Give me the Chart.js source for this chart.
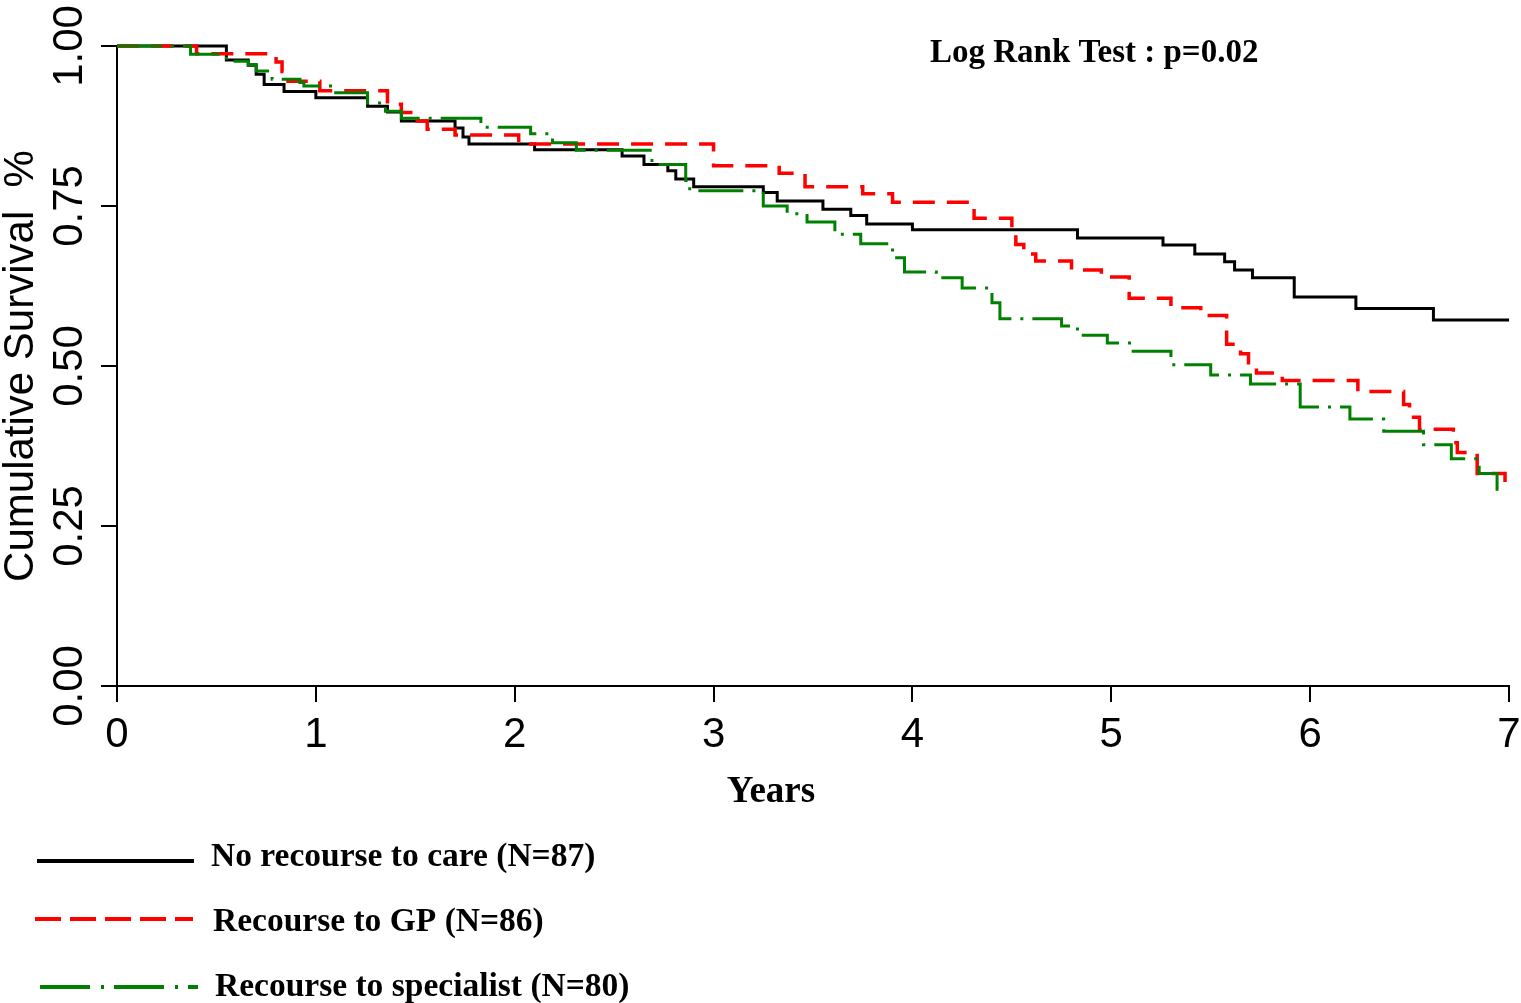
<!DOCTYPE html>
<html>
<head>
<meta charset="utf-8">
<script src="https://cdn.jsdelivr.net/npm/chart.js@4.4.1/dist/chart.umd.min.js"></script>
<style>
  html, body { margin: 0; padding: 0; background: #fff; }
  canvas { display: block; }
</style>
</head>
<body>
<canvas id="km" width="1521" height="1003"></canvas>
<script>
// axis ticks
const xTicks = [0, 1, 2, 3, 4, 5, 6, 7];
const yTicks = [0, 0.25, 0.5, 0.75, 1];

const seriesNames = ['No recourse to care (N=87)', 'Recourse to GP (N=86)', 'Recourse to specialist (N=80)'];

// Kaplan-Meier steps: time of drop (years) and survival after it
const noCareTimes = [0, 0.55, 0.66, 0.70, 0.74, 0.84, 1.00, 1.26, 1.36, 1.43, 1.70, 1.74, 1.77, 2.10, 2.54, 2.65, 2.77, 2.81, 2.90, 3.25, 3.32, 3.55, 3.69, 3.77, 4.00, 4.83, 5.26, 5.42, 5.57, 5.62, 5.71, 5.92, 6.23, 6.62, 7.00];
const noCareSurv = [1.00, 0.978, 0.970, 0.956, 0.940, 0.929, 0.919, 0.906, 0.897, 0.883, 0.872, 0.858, 0.847, 0.838, 0.828, 0.815, 0.805, 0.792, 0.780, 0.771, 0.758, 0.745, 0.735, 0.722, 0.713, 0.700, 0.689, 0.675, 0.663, 0.650, 0.638, 0.608, 0.590, 0.572, 0.572];

const gpTimes = [0, 0.40, 0.80, 0.83, 0.86, 1.02, 1.36, 1.43, 1.51, 1.56, 1.70, 2.02, 3.00, 3.33, 3.46, 3.75, 3.90, 4.31, 4.50, 4.52, 4.56, 4.62, 4.80, 4.95, 5.09, 5.30, 5.45, 5.58, 5.65, 5.69, 5.73, 5.86, 6.24, 6.47, 6.50, 6.55, 6.72, 6.74, 6.84, 6.98];
const gpSurv = [1.00, 0.988, 0.975, 0.960, 0.945, 0.930, 0.909, 0.896, 0.883, 0.870, 0.861, 0.847, 0.813, 0.801, 0.780, 0.769, 0.756, 0.731, 0.710, 0.690, 0.675, 0.664, 0.650, 0.639, 0.606, 0.591, 0.579, 0.534, 0.519, 0.505, 0.489, 0.4775, 0.460, 0.440, 0.420, 0.401, 0.380, 0.365, 0.332, 0.315];

const specTimes = [0, 0.37, 0.55, 0.66, 0.70, 0.78, 0.92, 0.94, 1.10, 1.26, 1.35, 1.43, 1.83, 2.08, 2.19, 2.31, 2.69, 2.86, 2.88, 3.25, 3.37, 3.47, 3.61, 3.74, 3.90, 3.96, 4.12, 4.25, 4.40, 4.44, 4.75, 4.83, 4.98, 5.11, 5.30, 5.50, 5.70, 5.95, 6.20, 6.37, 6.57, 6.71, 6.85, 6.94];
const specSurv = [1.00, 0.987, 0.976, 0.971, 0.961, 0.948, 0.943, 0.9375, 0.927, 0.911, 0.898, 0.887, 0.873, 0.863, 0.849, 0.837, 0.815, 0.790, 0.774, 0.750, 0.738, 0.725, 0.706, 0.691, 0.669, 0.647, 0.638, 0.622, 0.599, 0.574, 0.5625, 0.548, 0.536, 0.523, 0.502, 0.486, 0.472, 0.436, 0.417, 0.398, 0.377, 0.355, 0.332, 0.305];

const testLabel = 'Log Rank Test : p=0.02';
const xTitle = 'Years';
const yTitle = 'Cumulative Survival  %';

function toPoints(times, surv) {
  return times.map((t, i) => ({ x: t, y: surv[i] }));
}

// legend rows drawn under the plot
const legendRows = [
  { y: 861, x0: 37, x1: 194, textX: 211, base: 866, dash: [] },
  { y: 919, x0: 35, x1: 193, textX: 213, base: 931, dash: [26, 9] },
  { y: 987, x0: 40, x1: 198, textX: 215, base: 996, dash: [50, 11, 3, 10] }
];

const extraText = {
  id: 'extraText',
  afterDraw(chart) {
    const ctx = chart.ctx;
    ctx.save();
    ctx.fillStyle = '#000';
    ctx.textBaseline = 'alphabetic';
    ctx.textAlign = 'left';
    ctx.font = 'bold 33px "Liberation Serif"';
    ctx.fillText(testLabel, 930, 62);

    ctx.textAlign = 'center';
    ctx.font = 'bold 37px "Liberation Serif"';
    ctx.fillText(xTitle, 771, 802);

    ctx.textAlign = 'left';
    ctx.font = 'bold 33.5px "Liberation Serif"';
    chart.data.datasets.forEach((ds, i) => {
      const r = legendRows[i];
      ctx.strokeStyle = ds.borderColor;
      ctx.lineWidth = 4;
      ctx.setLineDash(r.dash);
      ctx.beginPath();
      ctx.moveTo(r.x0, r.y);
      ctx.lineTo(r.x1, r.y);
      ctx.stroke();
      ctx.fillText(ds.label, r.textX, r.base);
    });
    ctx.restore();
  }
};

const ctx = document.getElementById('km').getContext('2d');
new Chart(ctx, {
  type: 'line',
  data: {
    datasets: [
      {
        label: seriesNames[0],
        data: toPoints(noCareTimes, noCareSurv),
        borderColor: '#000000',
        borderWidth: 3,
        order: 2
      },
      {
        label: seriesNames[1],
        data: toPoints(gpTimes, gpSurv),
        borderColor: '#ff0000',
        borderWidth: 3.5,
        borderDash: [22, 12],
        order: 1
      },
      {
        label: seriesNames[2],
        data: toPoints(specTimes, specSurv),
        borderColor: '#008000',
        borderWidth: 3,
        borderDash: [45, 9, 3, 9],
        order: 0
      }
    ]
  },
  options: {
    responsive: false,
    animation: false,
    devicePixelRatio: 1,
    layout: { padding: { top: 46, right: 12, bottom: 217, left: 0 } },
    elements: {
      line: { stepped: true, fill: false, tension: 0 },
      point: { radius: 0, hoverRadius: 0 }
    },
    datasets: { line: { clip: false } },
    plugins: {
      legend: { display: false },
      tooltip: { enabled: false }
    },
    scales: {
      x: {
        type: 'linear',
        min: 0,
        max: 7,
        afterBuildTicks: s => { s.ticks = xTicks.map(v => ({ value: v })); },
        afterFit: s => { s.height = 100; s.paddingLeft = 0; s.paddingRight = 0; },
        border: { display: true, color: '#000', width: 2 },
        grid: { drawOnChartArea: false, drawTicks: true, tickLength: 16, color: '#000', lineWidth: 2 },
        ticks: {
          color: '#000',
          padding: 8,
          maxRotation: 0,
          font: { family: '"Liberation Sans", Arial, sans-serif', size: 42 },
          callback: v => String(v)
        }
      },
      y: {
        type: 'linear',
        min: 0,
        max: 1,
        afterBuildTicks: s => { s.ticks = yTicks.map(v => ({ value: v })); },
        afterFit: s => { s.width = 117; },
        border: { display: true, color: '#000', width: 2 },
        grid: { drawOnChartArea: false, drawTicks: true, tickLength: 16, color: '#000', lineWidth: 2 },
        ticks: {
          color: '#000',
          minRotation: 90,
          maxRotation: 90,
          crossAlign: 'center',
          padding: -10,
          font: { family: '"Liberation Sans", Arial, sans-serif', size: 42 },
          callback: v => Number(v).toFixed(2)
        },
        title: {
          display: true,
          text: yTitle,
          color: '#000',
          padding: 0,
          font: { family: '"Liberation Sans", Arial, sans-serif', size: 42, lineHeight: 1 }
        }
      }
    }
  },
  plugins: [extraText]
});
</script>
</body>
</html>
